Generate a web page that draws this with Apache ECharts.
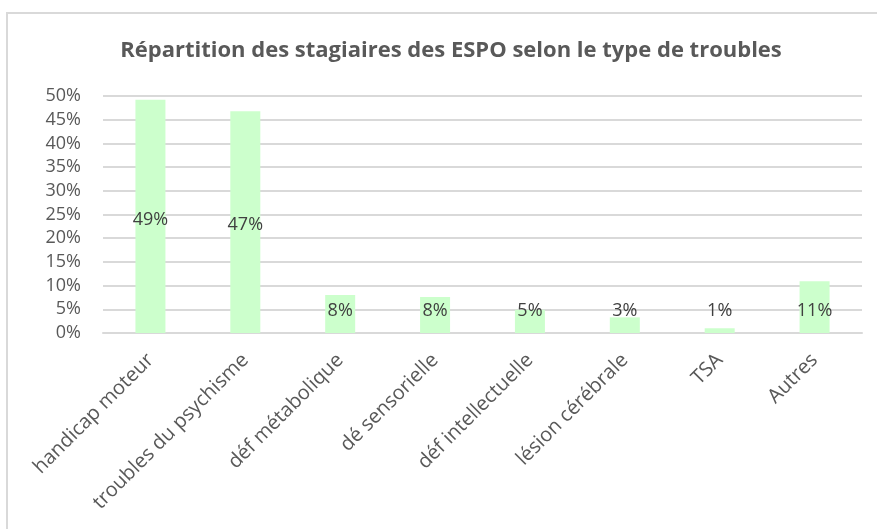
<!DOCTYPE html>
<html lang="fr">
  <head>
    <meta charset="UTF-8" />
    <title>Répartition des stagiaires des ESPO</title>
    <style>
      html, body { margin: 0; padding: 0; background: #fff; }
      #main { width: 877px; height: 529px; }
    </style>
  </head>
  <body>
    <script src="https://cdn.jsdelivr.net/npm/echarts@6/dist/echarts.min.js"></script>
    <div id="main"></div>
    <script>
      const titleText = 'Répartition des stagiaires des ESPO selon le type de troubles'
      const categories = [
        'handicap moteur',
        'troubles du psychisme',
        'déf métabolique',
        'dé sensorielle',
        'déf intellectuelle',
        'lésion cérébrale',
        'TSA',
        'Autres'
      ]
      // percentages
      const values = [49.2, 46.8, 8.0, 7.6, 4.9, 3.3, 1.0, 10.9]
      // labels as printed on the chart
      const labels = ['49%', '47%', '8%', '8%', '5%', '3%', '1%', '11%']

      const font = '"Open Sans", "Noto Sans", sans-serif'
      const chart = echarts.init(document.getElementById('main'))

      chart.setOption({
        animation: false,
        title: {
          text: titleText,
          left: 446,
          textAlign: 'center',
          top: 35,
          textStyle: { fontFamily: font, fontWeight: 'bold', fontSize: 22, color: '#595959' }
        },
        graphic: [
          {
            type: 'rect',
            shape: { x: 7, y: 13, width: 900, height: 600 },
            style: { fill: 'none', stroke: '#d9d9d9', lineWidth: 2 },
            silent: true
          }
        ],
        grid: { left: 103, right: 15, top: 96, bottom: 196, containLabel: false },
        xAxis: {
          type: 'category',
          data: categories,
          axisTick: { show: false },
          axisLine: { lineStyle: { color: '#d9d9d9', width: 2 } },
          axisLabel: {
            interval: 0,
            rotate: 45,
            margin: 24,
            fontFamily: font,
            fontSize: 20,
            color: '#595959'
          }
        },
        yAxis: {
          type: 'value',
          min: 0,
          max: 50,
          interval: 5,
          axisLine: { show: false },
          axisTick: { show: false },
          splitLine: { lineStyle: { color: '#d9d9d9', width: 2 } },
          axisLabel: {
            formatter: '{value}%',
            margin: 22,
            fontFamily: font,
            fontSize: 18,
            color: '#595959'
          }
        },
        series: [
          {
            type: 'bar',
            barWidth: 30,
            itemStyle: { color: '#ccffcc' },
            data: values.map((v, i) => ({
              value: v,
              label: v > 20
                ? { position: 'inside', offset: [0, 3] }
                : { position: 'insideBottom', distance: 13 }
            })),
            label: {
              show: true,
              formatter: p => labels[p.dataIndex],
              fontFamily: font,
              fontSize: 18,
              color: '#404040'
            }
          }
        ]
      })
    </script>
  </body>
</html>
